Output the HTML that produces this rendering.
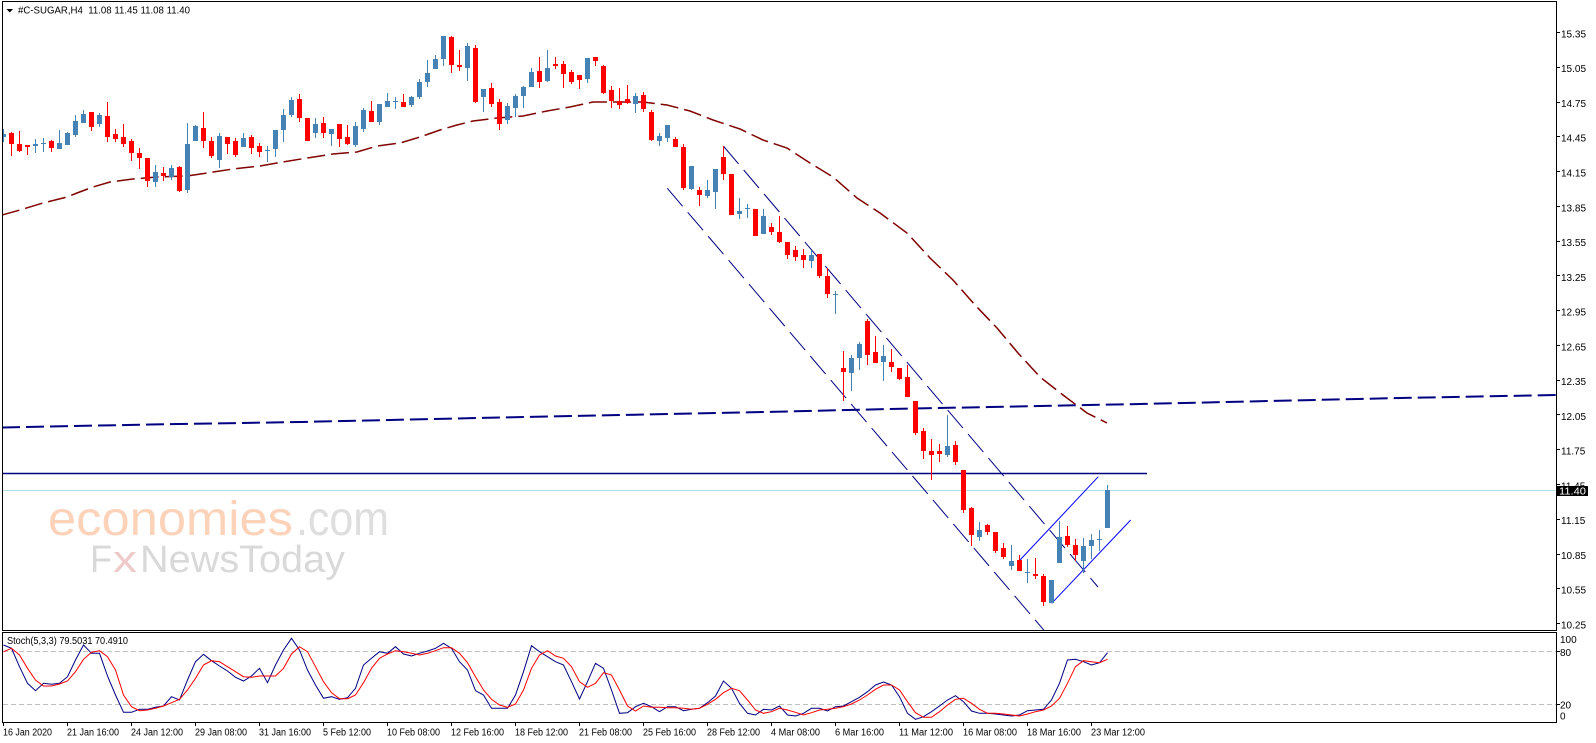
<!DOCTYPE html>
<html><head><meta charset="utf-8"><style>
html,body{margin:0;padding:0;background:#fff;}
svg{display:block;}
text{font-family:"Liberation Sans",Arial,sans-serif;}
</style></head><body>
<svg width="1596" height="743" viewBox="0 0 1596 743" xmlns="http://www.w3.org/2000/svg">
<defs>
<clipPath id="cm"><rect x="3" y="2" width="1553" height="628"/></clipPath>
<clipPath id="cs"><rect x="3" y="633" width="1553" height="89"/></clipPath>
</defs>
<rect x="0" y="0" width="1596" height="743" fill="#fff"/>

<g clip-path="url(#cm)">
<!-- watermark -->
<text x="48" y="535" font-size="48" fill="#fcd2b9" textLength="245" lengthAdjust="spacingAndGlyphs">economies</text>
<text x="296" y="535" font-size="48" fill="#dedede" textLength="93" lengthAdjust="spacingAndGlyphs">.com</text>
<text x="90" y="572" font-size="38" fill="#d9d9d9" textLength="22" lengthAdjust="spacingAndGlyphs">F</text>
<text x="113" y="572" font-size="38" fill="#eecaca" textLength="24" lengthAdjust="spacingAndGlyphs">x</text>
<text x="140" y="572" font-size="38" fill="#d9d9d9" textLength="205" lengthAdjust="spacingAndGlyphs">NewsToday</text>

<!-- cyan current price line -->
<line x1="3" y1="490.5" x2="1556" y2="490.5" stroke="#b0e0e6" stroke-width="1"/>
<!-- navy dashed MA -->
<polyline fill="none" stroke="#000080" stroke-width="2" stroke-dasharray="18,6" points="2,427.5 150,424.5 300,422 500,417.5 670,414 795,411.3 890,409 990,407 1140,404 1400,398 1556,395"/>
<!-- brown dashed MA -->
<polyline fill="none" stroke="#800000" stroke-width="1.5" stroke-dasharray="18,6" points="2,215 20,210 43,203 67,197 77,193 93,187 110,182 133,179 157,177 187,176 207,173 233,169 260,166 283,162 307,158 333,154 357,152 377,146 400,143 420,137 440,130 457,125 473,121 497,118 523,116 547,111 570,107 593,102 613,102 643,102 667,105 690,111 713,120 740,129 763,140 787,148 810,163 833,177 857,198 880,213 907,233 930,258 953,280 975,305 997,328 1018,353 1040,377 1063,395 1087,413 1107,423"/>
<!-- horizontal navy solid -->
<line x1="3" y1="473.5" x2="1147" y2="473.5" stroke="#000080" stroke-width="1.5"/>
<!-- descending channel (dashed) -->
<line x1="723.3" y1="146" x2="1098" y2="587" stroke="#000080" stroke-width="1" stroke-dasharray="23.6,7.9"/>
<line x1="667.3" y1="188.3" x2="1045" y2="631.5" stroke="#000080" stroke-width="1" stroke-dasharray="23.6,7.9"/>
<!-- rising channel -->
<line x1="1020" y1="560" x2="1098.3" y2="476.7" stroke="#0000ff" stroke-width="1"/>
<line x1="1051.7" y1="603.3" x2="1130.7" y2="520" stroke="#0000ff" stroke-width="1"/>

<!-- candles -->
<g transform="translate(3.5,0) scale(8,1)" shape-rendering="crispEdges" fill="none">
<path stroke="#4682b4" stroke-width="1" vector-effect="non-scaling-stroke" d="M0 129V142 M4 139V153 M5 138V152 M7 130V149 M8 132V145 M9 115V137 M10 110V123 M12 113V127 M19 165V187 M21 165V180 M23 123V193 M24 125V141 M27 133V168 M30 133V147 M33 146V162 M34 130V157 M35 109V142 M36 97V117 M39 118V138 M41 129V146 M44 122V147 M45 108V132 M47 104V125 M48 93V107 M49 97V109 M51 96V107 M52 79V99 M53 60V87 M54 55V69 M55 36V66 M58 43V81 M60 89V112 M63 103V124 M64 94V117 M65 86V108 M66 68V87 M68 50V82 M73 58V83 M79 93V113 M82 133V146 M83 125V142 M86 166V190 M88 180V198 M89 169V209 M92 198V219 M93 204V218 M95 209V234 M101 250V268 M104 291V314 M106 355V391 M107 342V370 M110 345V381 M118 415V457 M122 522V541 M126 545V570 M128 559V583 M131 580V603 M132 521V563 M135 538V573 M136 534V559 M137 530V551 M138 485V528"/>
<path stroke="#4682b4" stroke-width="5" vector-effect="non-scaling-stroke" d="M0 134V137 M4 144V146 M5 143V144 M7 143V149 M8 133V145 M9 121V135 M10 114V123 M12 115V124 M19 172V182 M21 168V177 M23 144V190 M24 126V141 M27 136V160 M30 138V147 M33 150V151 M34 130V149 M35 115V130 M36 100V115 M39 124V133 M41 129V134 M44 126V145 M45 110V129 M47 104V122 M48 101V107 M49 101V102 M51 97V105 M52 82V97 M53 73V82 M54 59V69 M55 36V59 M58 46V68 M60 89V97 M63 106V120 M64 96V108 M65 87V96 M66 72V87 M68 68V81 M73 58V79 M79 96V104 M82 136V141 M83 125V138 M86 166V189 M88 190V196 M89 169V192 M92 211V214 M93 208V209 M95 216V234 M101 255V261 M104 294V295 M106 358V373 M107 344V358 M110 356V362 M118 446V455 M122 530V537 M126 561V566 M128 572V573 M131 580V603 M132 537V563 M135 546V561 M136 540V546 M137 539V540 M138 490V528"/>
<path stroke="#ff0000" stroke-width="1" vector-effect="non-scaling-stroke" d="M1 132V156 M2 131V152 M3 145V155 M6 140V152 M11 112V131 M13 102V142 M14 129V142 M15 124V147 M16 139V161 M17 148V169 M18 158V187 M20 167V181 M22 166V192 M25 112V148 M26 137V158 M28 137V154 M29 138V157 M31 135V154 M32 143V157 M37 94V122 M38 118V141 M40 117V138 M42 124V147 M43 125V145 M46 101V122 M50 94V107 M56 36V73 M57 50V71 M59 45V103 M61 83V107 M62 99V130 M67 57V88 M69 57V69 M70 61V88 M71 70V84 M72 75V89 M74 57V66 M75 65V94 M76 86V108 M77 88V109 M78 85V104 M80 92V112 M81 110V141 M84 137V147 M85 144V190 M87 187V206 M90 146V180 M91 174V215 M94 209V236 M96 223V235 M97 216V243 M98 242V259 M99 246V261 M100 249V268 M102 254V278 M103 268V298 M105 351V401 M108 319V365 M109 336V363 M111 349V372 M112 368V380 M113 365V397 M114 401V435 M115 428V459 M116 439V480 M117 444V462 M119 441V465 M120 470V513 M121 507V546 M123 524V535 M124 532V553 M125 543V559 M127 555V571 M129 558V579 M130 574V606 M133 526V547 M134 539V561"/>
<path stroke="#ff0000" stroke-width="5" vector-effect="non-scaling-stroke" d="M1 133V144 M2 144V151 M3 145V147 M6 141V148 M11 112V127 M13 116V137 M14 134V139 M15 137V144 M16 141V153 M17 153V158 M18 158V181 M20 173V176 M22 167V191 M25 128V141 M26 141V156 M28 137V144 M29 141V155 M31 137V148 M32 146V152 M37 99V118 M38 118V141 M40 123V133 M42 124V139 M43 137V144 M46 111V122 M50 102V107 M56 37V65 M57 65V67 M59 48V102 M61 88V104 M62 102V124 M67 71V82 M69 64V66 M70 64V74 M71 72V82 M72 75V80 M74 57V61 M75 66V93 M76 90V101 M77 101V105 M78 99V103 M80 95V109 M81 112V140 M84 139V147 M85 147V188 M87 190V195 M90 157V174 M91 174V215 M94 209V236 M96 227V232 M97 232V242 M98 242V255 M99 250V257 M100 255V260 M102 254V276 M103 276V294 M105 368V372 M108 321V355 M109 352V363 M111 362V367 M112 368V379 M113 377V397 M114 401V433 M115 431V451 M116 451V455 M117 451V454 M119 445V462 M120 470V510 M121 508V535 M123 525V532 M124 532V551 M125 548V557 M127 560V571 M129 574V576 M130 576V602 M133 536V545 M134 545V555"/>
</g>
</g>

<!-- title -->
<polygon points="6.5,9 13,9 9.75,12.5" fill="#000"/>
<text x="18" y="13.5" font-size="10" fill="#000" textLength="172" lengthAdjust="spacingAndGlyphs" style="white-space:pre">#C-SUGAR,H4  11.08 11.45 11.08 11.40</text>

<!-- stochastic -->
<g clip-path="url(#cs)">
<line x1="3" y1="651.5" x2="1556" y2="651.5" stroke="#c0c0c0" stroke-width="1" stroke-dasharray="5,3"/>
<line x1="3" y1="704.5" x2="1556" y2="704.5" stroke="#c0c0c0" stroke-width="1" stroke-dasharray="5,3"/>
<g transform="translate(3.5,0) scale(8,1)" fill="none">
<polyline stroke="#000080" stroke-width="1" vector-effect="non-scaling-stroke" points="0,645 1,648.3 2,666.7 3,683.3 4,690.7 5,683.3 6,684.3 7,683.3 8,676.7 9,660 10,645 11,653.3 12,653.3 13,676 14,695 15,712.3 16,712.3 17,709.3 18,709.3 19,707.3 20,706 21,696.7 22,700 23,680 24,661.7 25,654.3 26,660.7 27,666 28,671 29,677.3 30,681 31,676 32,668.3 33,682.7 34,665 35,650 36,638.3 37,650 38,670 39,685 40,698.3 41,696.7 42,699.3 43,697.7 44,688.3 45,665 46,658.3 47,651.7 48,653.3 49,646.7 50,654 51,656 52,653.3 53,651 54,648.3 55,643.3 56,648.3 57,661.7 58,670 59,690.7 60,695 61,708.3 62,708.3 63,708.3 64,695 65,671.7 66,645.7 67,651.7 68,656.7 69,661.7 70,665 71,681.7 72,699 73,681.7 74,663.3 75,668.3 76,690 77,713.3 78,712.7 79,706.7 80,703.3 81,706.7 82,711.7 83,706.7 84,706.7 85,710.7 86,709.3 87,708.3 88,702.7 89,696 90,681 91,688.3 92,703.3 93,713.3 94,715 95,709.3 96,710 97,706 98,715 99,716 100,713.3 101,708.3 102,708.3 103,711 104,706.7 105,706 106,701.7 107,697.3 108,691.7 109,685 110,682 111,685 112,696.7 113,713.3 114,719.3 115,716.7 116,711.7 117,706 118,700 119,695.7 120,701.7 121,711 122,713.3 123,713.3 124,714 125,715 126,716 127,715 128,710.7 129,710 130,709.3 131,700 132,683.3 133,660 134,659.3 135,661.7 136,665 137,662.7 138,652.7"/>
<polyline stroke="#ff0000" stroke-width="1" vector-effect="non-scaling-stroke" points="0,651.7 1,648.3 2,655 3,668.3 4,680 5,686 6,686 7,684 8,681 9,671.7 10,659.3 11,652.3 12,650.7 13,656.7 14,670 15,695 16,706.7 17,710.7 18,710 19,708.3 20,706 21,702.7 22,699.3 23,690 24,678.3 25,665 26,660.7 27,661.7 28,666.7 29,671.7 30,676.7 31,677.3 32,676 33,676 34,676 35,668.3 36,654 37,646.7 38,651.7 39,666.7 40,681.7 41,692.7 42,698.7 43,698.7 44,695 45,682.7 46,668.3 47,658.3 48,654 49,650.7 50,651.7 51,653.3 52,655 53,653.3 54,650.7 55,647.7 56,647.7 57,653.3 58,662.7 59,676.7 60,690 61,699.3 62,705 63,707.3 64,704 65,690 66,668.3 67,655 68,650.7 69,656 70,658.3 71,666.7 72,681.7 73,687.3 74,683.3 75,672.7 76,675 77,690 78,706 79,711 80,706 81,707.3 82,707.3 83,707.7 84,707.7 85,708.3 86,709.3 87,708.3 88,704.3 89,699.3 90,692.7 91,688.3 92,690.7 93,700 94,710 95,713.3 96,711.7 97,708.3 98,710 99,712.3 100,715 101,712.7 102,710 103,709.3 104,708.3 105,706.7 106,704 107,700 108,695 109,689.3 110,685 111,685 112,690 113,701.7 114,712.7 115,717.3 116,717.3 117,711.7 118,705 119,699.3 120,698.3 121,703.3 122,709.3 123,713.3 124,713.3 125,714 126,715 127,716 128,714 129,711.7 130,710 131,706 132,698.3 133,683.3 134,666.7 135,660.7 136,661.7 137,662.7 138,659.3"/>
</g>
</g>
<text x="7" y="644" font-size="10" fill="#000" textLength="121" lengthAdjust="spacingAndGlyphs">Stoch(5,3,3) 79.5031 70.4910</text>

<!-- frames -->
<g fill="none" stroke="#000" stroke-width="1" shape-rendering="crispEdges">
<rect x="2.5" y="1.5" width="1554" height="629"/>
<rect x="2.5" y="632.5" width="1554" height="90"/>
</g>

<!-- price axis -->
<g stroke="#000" stroke-width="1" shape-rendering="crispEdges">
<line x1="1557" y1="32.5" x2="1560" y2="32.5"/><line x1="1557" y1="67.5" x2="1560" y2="67.5"/>
<line x1="1557" y1="102.5" x2="1560" y2="102.5"/><line x1="1557" y1="136.5" x2="1560" y2="136.5"/>
<line x1="1557" y1="171.5" x2="1560" y2="171.5"/><line x1="1557" y1="206.5" x2="1560" y2="206.5"/>
<line x1="1557" y1="241.5" x2="1560" y2="241.5"/><line x1="1557" y1="275.5" x2="1560" y2="275.5"/>
<line x1="1557" y1="310.5" x2="1560" y2="310.5"/><line x1="1557" y1="345.5" x2="1560" y2="345.5"/>
<line x1="1557" y1="380.5" x2="1560" y2="380.5"/><line x1="1557" y1="414.5" x2="1560" y2="414.5"/>
<line x1="1557" y1="449.5" x2="1560" y2="449.5"/><line x1="1557" y1="484.5" x2="1560" y2="484.5"/>
<line x1="1557" y1="519.5" x2="1560" y2="519.5"/><line x1="1557" y1="554.5" x2="1560" y2="554.5"/>
<line x1="1557" y1="588.5" x2="1560" y2="588.5"/><line x1="1557" y1="623.5" x2="1560" y2="623.5"/>
<line x1="1557" y1="651.5" x2="1560" y2="651.5"/><line x1="1557" y1="704.5" x2="1560" y2="704.5"/>
</g>
<g font-size="10" fill="#000">
<text x="1561" y="37.5">15.35</text>
<text x="1561" y="72.2">15.05</text>
<text x="1561" y="106.9">14.75</text>
<text x="1561" y="141.7">14.45</text>
<text x="1561" y="176.5">14.15</text>
<text x="1561" y="211.3">13.85</text>
<text x="1561" y="246">13.55</text>
<text x="1561" y="280.8">13.25</text>
<text x="1561" y="315.6">12.95</text>
<text x="1561" y="350.3">12.65</text>
<text x="1561" y="385.1">12.35</text>
<text x="1561" y="419.9">12.05</text>
<text x="1561" y="454.6">11.75</text>
<text x="1561" y="489.4">11.45</text>
<text x="1561" y="524.2">11.15</text>
<text x="1561" y="559">10.85</text>
<text x="1561" y="593.7">10.55</text>
<text x="1561" y="628.5">10.25</text>
<text x="1560" y="643">100</text>
<text x="1560" y="656">80</text>
<text x="1560" y="708.5">20</text>
<text x="1560" y="719.5">0</text>
</g>
<rect x="1557" y="486" width="31" height="10" fill="#000"/>
<text x="1559" y="494.5" font-size="10" fill="#fff" textLength="27" lengthAdjust="spacingAndGlyphs">11.40</text>

<!-- time axis -->
<g stroke="#000" stroke-width="1" shape-rendering="crispEdges">
<line x1="3.5" y1="722" x2="3.5" y2="726"/><line x1="67.5" y1="722" x2="67.5" y2="726"/>
<line x1="131.5" y1="722" x2="131.5" y2="726"/><line x1="195.5" y1="722" x2="195.5" y2="726"/>
<line x1="259.5" y1="722" x2="259.5" y2="726"/><line x1="323.5" y1="722" x2="323.5" y2="726"/>
<line x1="387.5" y1="722" x2="387.5" y2="726"/><line x1="451.5" y1="722" x2="451.5" y2="726"/>
<line x1="515.5" y1="722" x2="515.5" y2="726"/><line x1="579.5" y1="722" x2="579.5" y2="726"/>
<line x1="643.5" y1="722" x2="643.5" y2="726"/><line x1="707.5" y1="722" x2="707.5" y2="726"/>
<line x1="771.5" y1="722" x2="771.5" y2="726"/><line x1="835.5" y1="722" x2="835.5" y2="726"/>
<line x1="899.5" y1="722" x2="899.5" y2="726"/><line x1="963.5" y1="722" x2="963.5" y2="726"/>
<line x1="1027.5" y1="722" x2="1027.5" y2="726"/><line x1="1091.5" y1="722" x2="1091.5" y2="726"/>
</g>
<g font-size="10" fill="#000" lengthAdjust="spacingAndGlyphs">
<text x="3" y="735.5" textLength="49" lengthAdjust="spacingAndGlyphs">16 Jan 2020</text>
<text x="67" y="735.5" textLength="52" lengthAdjust="spacingAndGlyphs">21 Jan 16:00</text>
<text x="131" y="735.5" textLength="52" lengthAdjust="spacingAndGlyphs">24 Jan 12:00</text>
<text x="195" y="735.5" textLength="52" lengthAdjust="spacingAndGlyphs">29 Jan 08:00</text>
<text x="259" y="735.5" textLength="52" lengthAdjust="spacingAndGlyphs">31 Jan 16:00</text>
<text x="323" y="735.5" textLength="48" lengthAdjust="spacingAndGlyphs">5 Feb 12:00</text>
<text x="387" y="735.5" textLength="53" lengthAdjust="spacingAndGlyphs">10 Feb 08:00</text>
<text x="451" y="735.5" textLength="53" lengthAdjust="spacingAndGlyphs">12 Feb 16:00</text>
<text x="515" y="735.5" textLength="53" lengthAdjust="spacingAndGlyphs">18 Feb 12:00</text>
<text x="579" y="735.5" textLength="53" lengthAdjust="spacingAndGlyphs">21 Feb 08:00</text>
<text x="643" y="735.5" textLength="53" lengthAdjust="spacingAndGlyphs">25 Feb 16:00</text>
<text x="707" y="735.5" textLength="53" lengthAdjust="spacingAndGlyphs">28 Feb 12:00</text>
<text x="771" y="735.5" textLength="49" lengthAdjust="spacingAndGlyphs">4 Mar 08:00</text>
<text x="835" y="735.5" textLength="49" lengthAdjust="spacingAndGlyphs">6 Mar 16:00</text>
<text x="899" y="735.5" textLength="54" lengthAdjust="spacingAndGlyphs">11 Mar 12:00</text>
<text x="963" y="735.5" textLength="54" lengthAdjust="spacingAndGlyphs">16 Mar 08:00</text>
<text x="1027" y="735.5" textLength="54" lengthAdjust="spacingAndGlyphs">18 Mar 16:00</text>
<text x="1091" y="735.5" textLength="54" lengthAdjust="spacingAndGlyphs">23 Mar 12:00</text>
</g>
</svg>
</body></html>
